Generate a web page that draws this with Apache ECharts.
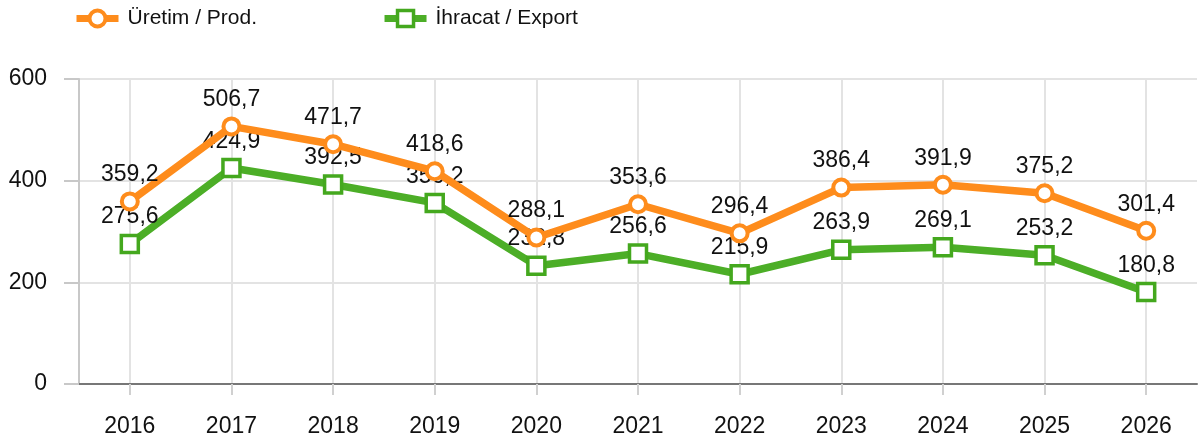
<!DOCTYPE html>
<html>
<head>
<meta charset="utf-8">
<script src="https://cdn.jsdelivr.net/npm/echarts@6/dist/echarts.min.js"></script>
<style>html,body{margin:0;padding:0;background:#fff}#c{width:1198px;height:445px}</style>
</head>
<body>
<div id="c"></div>
<script>
const years = ['2016','2017','2018','2019','2020','2021','2022','2023','2024','2025','2026'];
const production = [359.2, 506.7, 471.7, 418.6, 288.1, 353.6, 296.4, 386.4, 391.9, 375.2, 301.4];
const exportVals = [275.6, 424.9, 392.5, 356.2, 232.8, 256.6, 215.9, 263.9, 269.1, 253.2, 180.8];
const yTicks = [0, 200, 400, 600];

const fontFam = '"Liberation Sans", Arial, sans-serif';
const orange = '#fe8c1c';
const green = '#4cae27';
const greenBorder = '#44a81e';
const fmt = p => String(p.value).replace('.', ',');

const chart = echarts.init(document.getElementById('c'), null, {renderer: 'canvas'});
chart.setOption({
  animation: false,
  backgroundColor: '#fff',
  textStyle: {fontFamily: fontFam},
  legend: {
    left: 68, top: 3,
    itemWidth: 42, itemHeight: 20, itemGap: 124,
    textStyle: {fontFamily: fontFam, fontSize: 21, color: '#111', padding: [0, 0, 0, 4]},
    data: [
      {name: 'Üretim / Prod.', lineStyle: {width: 7, color: orange}, itemStyle: {color: '#fff', borderColor: orange, borderWidth: 4}},
      {name: 'İhracat / Export', lineStyle: {width: 7, color: green}, itemStyle: {color: '#fff', borderColor: greenBorder, borderWidth: 3.5}}
    ]
  },
  grid: {left: 79, right: 1, top: 79, bottom: 61, containLabel: false},
  xAxis: {
    type: 'category',
    data: years,
    boundaryGap: true,
    axisLine: {show: true, lineStyle: {color: '#777', width: 2}},
    axisTick: {show: true, alignWithLabel: true, length: 11, lineStyle: {color: '#d0d0d0', width: 2}},
    axisLabel: {fontSize: 23, color: '#111', margin: 31, fontFamily: fontFam},
    splitLine: {show: true, alignWithLabel: true, lineStyle: {color: '#e3e3e3', width: 2}}
  },
  yAxis: {
    type: 'value',
    min: yTicks[0], max: yTicks[yTicks.length - 1], interval: 200,
    axisLine: {show: true, lineStyle: {color: '#c8c8c8', width: 2}},
    axisTick: {show: true, length: 15, lineStyle: {color: '#c8c8c8', width: 2}},
    axisLabel: {fontSize: 23, color: '#111', margin: 32, fontFamily: fontFam},
    splitLine: {show: true, lineStyle: {color: '#e3e3e3', width: 2}}
  },
  series: [
    {
      name: 'Üretim / Prod.',
      type: 'line',
      data: production,
      z: 3,
      symbol: 'circle', symbolSize: 16,
      lineStyle: {color: orange, width: 7.5},
      itemStyle: {color: '#fff', borderColor: orange, borderWidth: 4},
      label: {show: true, position: 'top', distance: 5, fontSize: 23, color: '#111', fontFamily: fontFam, formatter: fmt},
      emphasis: {disabled: true}
    },
    {
      name: 'İhracat / Export',
      type: 'line',
      data: exportVals,
      z: 2,
      symbol: 'rect', symbolSize: 17,
      lineStyle: {color: green, width: 7.5},
      itemStyle: {color: '#fff', borderColor: greenBorder, borderWidth: 3.5},
      label: {show: true, position: 'top', distance: 5, fontSize: 23, color: '#111', fontFamily: fontFam, formatter: fmt},
      emphasis: {disabled: true}
    }
  ]
});
</script>
</body>
</html>
